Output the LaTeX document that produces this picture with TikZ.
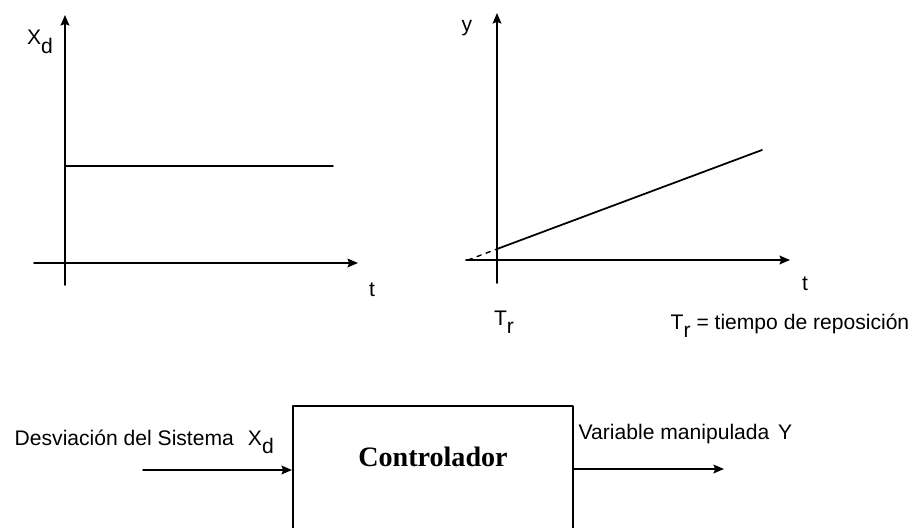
\documentclass[tikz,border=0pt]{standalone}
\usepackage{fontspec}
\setmainfont{Liberation Sans}
\newfontfamily\ctrlfont{Liberation Serif}
\usetikzlibrary{calc,positioning,arrows.meta}
% subindice bajado, como en el original
\newcommand{\bajo}[1]{\raisebox{-.75ex}{#1}}

\begin{document}
\begin{tikzpicture}[x=0.2mm, y=-0.2mm, font=\fontsize{12}{14}\selectfont, line cap=round, line join=round, >={Stealth[length=6pt,width=5pt,inset=1pt]}, line width=1pt]

\useasboundingbox (0,0) rectangle (913,527);

% --- Grafica de la desviacion X_d ---
\coordinate (O1) at (65,263);
\draw[->] (34,263) -- (358,263);
\draw[->] (65,285) -- (65,15);
\node at (40,42) {X\bajo{d}};
\node at (372,290) {t};
% escalon
\draw (O1 |- 0,166) -- (333,166);

% --- Grafica de la variable y ---
\coordinate (O2) at (497,260);
\coordinate (R0) at (497,249); % inicio de la rampa
\coordinate (R1) at (762,150);
\draw[->] (466,260) -- (790,260);
\draw[->] (497,283) -- (497,13);
\node at (467,28) {y};
\node at (805,284) {t};
% rampa y su prolongacion hasta el eje
\draw (R0) -- (R1);
\draw[line width=0.8pt, dash pattern=on 2.5pt off 3pt] (468,260) -- (R0);
\node at (504,322) {T\bajo{r}};
\node[anchor=west] at (664,326) {T\bajo{r} = tiempo de reposición};

% --- Diagrama de bloques ---
\node[draw, line width=1pt, minimum width=56mm, minimum height=28mm, anchor=north west]
  (ctrl) at (292,405) {};
\node at (433,457) {\ctrlfont\bfseries\fontsize{16}{18}\selectfont Controlador};

\coordinate (in) at (143,470);
\coordinate (out) at (724,469);
\draw[->] (in) -- (in -| ctrl.west);
\draw[->] (out -| ctrl.east) -- (out);

\node[anchor=west] at (8,442) {Desviación del Sistema\hspace{8pt}X\bajo{d}};
\node[anchor=west] at (572,434) {Variable manipulada\hspace{5pt}Y};

\end{tikzpicture}
\end{document}
